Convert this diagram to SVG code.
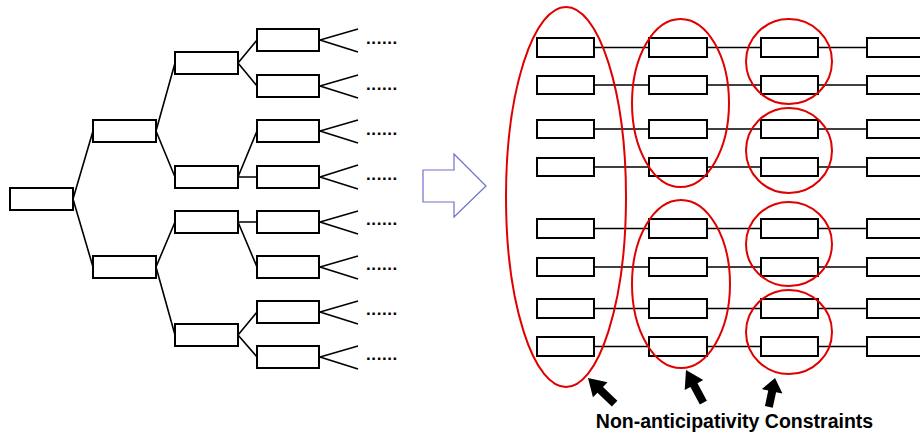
<svg xmlns="http://www.w3.org/2000/svg" width="920" height="434" viewBox="0 0 920 434">
<style>
.n{fill:#fff;stroke:#000;stroke-width:2}
.c{stroke:#000;stroke-width:1.6;fill:none}
.d{font-family:"Liberation Sans",Arial,sans-serif;font-size:17px;font-weight:bold;letter-spacing:0.6px;fill:#000}
.r{fill:none;stroke:#e00000;stroke-width:2}
.lbl{font-family:"Liberation Sans",Arial,sans-serif;font-size:19.5px;font-weight:bold;fill:#000}
</style>
<defs>
<path id="ba" d="M0,0 L10.5,17 L4,17 L4,37 L-4,37 L-4,17 L-10.5,17 Z" fill="#000"/>
</defs>
<g id="connectors">
<path class="c" d="M73,199 L93,131 M73,199 L93,267"/>
<path class="c" d="M156,131 L175,63 M156,131 L175,177 M156,267 L175,222 M156,267 L175,335"/>
<path class="c" d="M238,63 L257,40 M238,63 L257,86 M238,177 L257,131 M238,177 L257,177 M238,222 L257,222 M238,222 L257,267 M238,335 L257,312 M238,335 L257,357"/>
<path class="c" d="M358,29 L320,40 L358,52 M358,75 L320,86 L358,98 M358,120 L320,131 L358,143 M358,165 L320,177 L358,189 M358,211 L320,222 L358,234 M358,256 L320,267 L358,279 M358,301 L320,312 L358,324 M358,346 L320,357 L358,369"/>
<path class="c" d="M594,47.5 H867 M594,85 H867 M594,129 H867 M594,167 H867 M594,228.5 H867 M594,267 H867 M594,308.5 H867 M594,346.5 H867"/>
</g>
<g id="tree">
<g id="t0"><rect class="n" x="10" y="188" width="63" height="22"/></g>
<g id="t1a"><rect class="n" x="93" y="120" width="63" height="22"/></g>
<g id="t1b"><rect class="n" x="93" y="256" width="63" height="22"/></g>
<g id="t2a"><rect class="n" x="175" y="52" width="63" height="22"/></g>
<g id="t2b"><rect class="n" x="175" y="166" width="63" height="22"/></g>
<g id="t2c"><rect class="n" x="175" y="211" width="63" height="22"/></g>
<g id="t2d"><rect class="n" x="175" y="324" width="63" height="22"/></g>
<g id="t3a"><rect class="n" x="257" y="29" width="62" height="22"/></g>
<g id="t3b"><rect class="n" x="257" y="75" width="62" height="22"/></g>
<g id="t3c"><rect class="n" x="257" y="120" width="62" height="22"/></g>
<g id="t3d"><rect class="n" x="257" y="166" width="62" height="22"/></g>
<g id="t3e"><rect class="n" x="257" y="211" width="62" height="22"/></g>
<g id="t3f"><rect class="n" x="257" y="256" width="62" height="22"/></g>
<g id="t3g"><rect class="n" x="257" y="301" width="62" height="22"/></g>
<g id="t3h"><rect class="n" x="257" y="346" width="62" height="22"/></g>
<text class="d" x="366" y="44">......</text>
<text class="d" x="366" y="90">......</text>
<text class="d" x="366" y="135">......</text>
<text class="d" x="366" y="180">......</text>
<text class="d" x="366" y="225">......</text>
<text class="d" x="366" y="270">......</text>
<text class="d" x="366" y="315">......</text>
<text class="d" x="366" y="360">......</text>
</g>
<g id="bigarrow"><polygon points="423,170 454,170 454,154 486,186 454,217 454,202 423,202" fill="#fff" stroke="#7070c8" stroke-width="1.2"/></g>
<g id="scenarios">
<g id="col1">
<rect class="n" x="537" y="38" width="57" height="19"/><rect class="n" x="537" y="76" width="57" height="18"/>
<rect class="n" x="537" y="120" width="57" height="18"/><rect class="n" x="537" y="158" width="57" height="18"/>
<rect class="n" x="537" y="219" width="57" height="19"/><rect class="n" x="537" y="258" width="57" height="18"/>
<rect class="n" x="537" y="299" width="57" height="19"/><rect class="n" x="537" y="337" width="57" height="19"/>
</g>
<g id="col2">
<rect class="n" x="649" y="38" width="58" height="19"/><rect class="n" x="649" y="76" width="58" height="18"/>
<rect class="n" x="649" y="120" width="58" height="18"/><rect class="n" x="649" y="158" width="58" height="18"/>
<rect class="n" x="649" y="219" width="58" height="19"/><rect class="n" x="649" y="258" width="58" height="18"/>
<rect class="n" x="649" y="299" width="58" height="19"/><rect class="n" x="649" y="337" width="58" height="19"/>
</g>
<g id="col3">
<rect class="n" x="761" y="38" width="57" height="19"/><rect class="n" x="761" y="76" width="57" height="18"/>
<rect class="n" x="761" y="120" width="57" height="18"/><rect class="n" x="761" y="158" width="57" height="18"/>
<rect class="n" x="761" y="219" width="57" height="19"/><rect class="n" x="761" y="258" width="57" height="18"/>
<rect class="n" x="761" y="299" width="57" height="19"/><rect class="n" x="761" y="337" width="57" height="19"/>
</g>
<g id="col4">
<rect class="n" x="867" y="38" width="60" height="19"/><rect class="n" x="867" y="76" width="60" height="18"/>
<rect class="n" x="867" y="120" width="60" height="18"/><rect class="n" x="867" y="158" width="60" height="18"/>
<rect class="n" x="867" y="219" width="60" height="19"/><rect class="n" x="867" y="258" width="60" height="18"/>
<rect class="n" x="867" y="299" width="60" height="19"/><rect class="n" x="867" y="337" width="60" height="19"/>
</g>
</g>
<g id="constraints">
<ellipse class="r" cx="566" cy="197" rx="60" ry="190"/>
<ellipse class="r" cx="680.5" cy="103" rx="48.5" ry="84"/>
<ellipse class="r" cx="681" cy="284" rx="49" ry="84"/>
<ellipse class="r" cx="789" cy="61.5" rx="43" ry="42.5"/>
<ellipse class="r" cx="789" cy="150.5" rx="43" ry="42.5"/>
<ellipse class="r" cx="789" cy="244" rx="43" ry="42"/>
<ellipse class="r" cx="789" cy="332" rx="43" ry="42"/>
</g>
<g id="pointers">
<use href="#ba" transform="translate(588,378) rotate(-46)"/>
<use href="#ba" transform="translate(686,370) rotate(-28)"/>
<use href="#ba" transform="translate(775,378) rotate(12) scale(1,0.8)"/>
</g>
<text class="lbl" x="734.5" y="428" text-anchor="middle">Non-anticipativity Constraints</text>
</svg>
